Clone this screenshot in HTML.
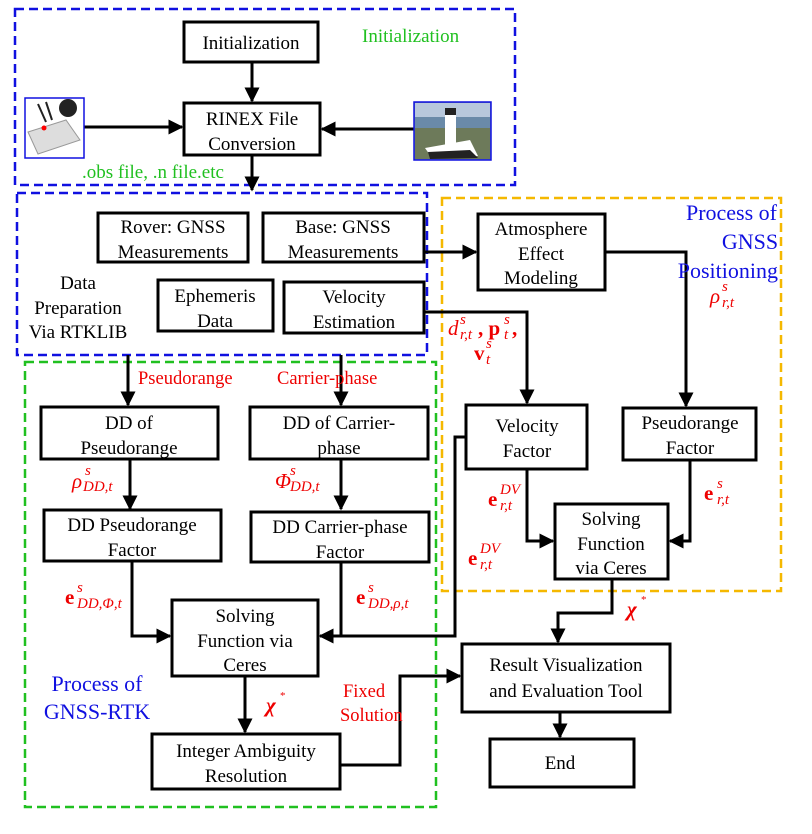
<!DOCTYPE html>
<html><head><meta charset="utf-8"><style>
body{margin:0;background:#fff;}
svg text{font-family:"Liberation Serif",serif;}
.b{fill:#fff;stroke:#000;stroke-width:3;}
.t{font-size:19px;fill:#000;text-anchor:middle;}
.l{stroke:#000;stroke-width:3;fill:none;}
.r{fill:#e00;font-style:italic;font-size:21px;}
.rs{fill:#e00;font-style:italic;font-size:15px;}
.bl{fill:#e00;font-weight:bold;font-size:21px;}
</style></head><body>
<svg width="812" height="829" viewBox="0 0 812 829" xmlns="http://www.w3.org/2000/svg">
<defs><marker id="a" markerWidth="5" markerHeight="5" refX="4.5" refY="2.5" orient="auto" markerUnits="strokeWidth"><path d="M0,0L5,2.5L0,5z" fill="#000"/></marker></defs>
<rect x="15" y="9" width="500" height="176" fill="none" stroke="#1010e0" stroke-width="2.5" stroke-dasharray="9,5"/>
<rect x="17" y="193" width="410" height="162" fill="none" stroke="#1010e0" stroke-width="2.5" stroke-dasharray="9,5"/>
<rect x="442" y="198" width="339" height="393" fill="none" stroke="#f5b800" stroke-width="2.5" stroke-dasharray="9,5"/>
<rect x="25" y="362" width="411" height="445" fill="none" stroke="#20c020" stroke-width="2.5" stroke-dasharray="9,5"/>
<g class="l" marker-end="url(#a)">
<path d="M252,62V101"/>
<path d="M84,127H182"/>
<path d="M414,129H322"/>
<path d="M252,155V190"/>
<path d="M424,252H476"/>
<path d="M605,252H686V406"/>
<path d="M424,312H527V403"/>
<path d="M128,355V405"/>
<path d="M341,355V405"/>
<path d="M130,459V509"/>
<path d="M341,459V509"/>
<path d="M132,561V636H170"/>
<path d="M341,562V636H320"/>
<path d="M527,469V541H553"/>
<path d="M690,460V541H670"/>
<path d="M245,676V732"/>
<path d="M612,579V613H558V642"/>
<path d="M340,765H400V676H460"/>
<path d="M560,712V737"/>
</g>
<path class="l" d="M466,437H455V636H341"/>
<rect x="25" y="98" width="59" height="60" fill="#fff" stroke="#1010e0" stroke-width="1.5"/>
<polygon points="28,132 66,120 80,140 38,154" fill="#ddd" stroke="#999"/>
<circle cx="68" cy="108" r="9" fill="#222"/><path d="M38,104l8,18M46,102l6,18" stroke="#222" stroke-width="2"/>
<circle cx="44" cy="128" r="2.5" fill="red"/>
<rect x="414" y="102" width="77" height="58" fill="#6a8aa8" stroke="#1010e0" stroke-width="1.5"/>
<rect x="415" y="103" width="75" height="14" fill="#b8c8dc"/>
<rect x="415" y="128" width="75" height="31" fill="#6d7a5a"/>
<polygon points="425,148 470,140 478,156 432,158" fill="#fff"/>
<polygon points="428,152 470,150 478,158 430,159" fill="#222"/>
<rect x="445" y="108" width="11" height="40" fill="#fff"/><rect x="445" y="108" width="11" height="7" fill="#222"/>
<rect class="b" x="184" y="22" width="134" height="40"/><text class="t" x="251" y="49">Initialization</text>
<rect class="b" x="184" y="103" width="136" height="52"/><text class="t" x="252" y="125">RINEX File</text><text class="t" x="252" y="150">Conversion</text>
<rect class="b" x="98" y="213" width="150" height="49"/><text class="t" x="173" y="233">Rover: GNSS</text><text class="t" x="173" y="258">Measurements</text>
<rect class="b" x="263" y="213" width="161" height="49"/><text class="t" x="343" y="233">Base: GNSS</text><text class="t" x="343" y="258">Measurements</text>
<rect class="b" x="158" y="280" width="115" height="51"/><text class="t" x="215" y="302">Ephemeris</text><text class="t" x="215" y="327">Data</text>
<rect class="b" x="284" y="282" width="140" height="51"/><text class="t" x="354" y="303">Velocity</text><text class="t" x="354" y="328">Estimation</text>
<rect class="b" x="478" y="214" width="127" height="76"/><text class="t" x="541" y="235">Atmosphere</text><text class="t" x="541" y="260">Effect</text><text class="t" x="541" y="284">Modeling</text>
<rect class="b" x="466" y="405" width="121" height="64"/><text class="t" x="527" y="432">Velocity</text><text class="t" x="527" y="457">Factor</text>
<rect class="b" x="623" y="408" width="133" height="52"/><text class="t" x="690" y="429">Pseudorange</text><text class="t" x="690" y="454">Factor</text>
<rect class="b" x="555" y="504" width="113" height="75"/><text class="t" x="611" y="525">Solving</text><text class="t" x="611" y="550">Function</text><text class="t" x="611" y="574">via Ceres</text>
<rect class="b" x="41" y="407" width="177" height="52"/><text class="t" x="129" y="429">DD of</text><text class="t" x="129" y="454">Pseudorange</text>
<rect class="b" x="250" y="407" width="178" height="52"/><text class="t" x="339" y="429">DD of Carrier-</text><text class="t" x="339" y="454">phase</text>
<rect class="b" x="44" y="510" width="177" height="51"/><text class="t" x="132" y="531">DD Pseudorange</text><text class="t" x="132" y="556">Factor</text>
<rect class="b" x="251" y="512" width="178" height="50"/><text class="t" x="340" y="533">DD Carrier-phase</text><text class="t" x="340" y="558">Factor</text>
<rect class="b" x="172" y="600" width="146" height="76"/><text class="t" x="245" y="622">Solving</text><text class="t" x="245" y="647">Function via</text><text class="t" x="245" y="671">Ceres</text>
<rect class="b" x="152" y="734" width="188" height="55"/><text class="t" x="246" y="757">Integer Ambiguity</text><text class="t" x="246" y="782">Resolution</text>
<rect class="b" x="462" y="644" width="208" height="68"/><text class="t" x="566" y="671">Result Visualization</text><text class="t" x="566" y="697">and Evaluation Tool</text>
<rect class="b" x="490" y="739" width="144" height="48"/><text class="t" x="560" y="769">End</text>
<text x="362" y="42" fill="#20c020" font-size="19">Initialization</text>
<text x="82" y="178" fill="#20c020" font-size="19">.obs file, .n file.etc</text>
<text class="t" x="78" y="289">Data</text><text class="t" x="78" y="314">Preparation</text><text class="t" x="78" y="338">Via RTKLIB</text>
<text x="777" y="220" fill="#1010e0" font-size="22" text-anchor="end">Process of</text>
<text x="750" y="249" fill="#1010e0" font-size="22" text-anchor="middle">GNSS</text>
<text x="778" y="278" fill="#1010e0" font-size="22" text-anchor="end">Positioning</text>
<text x="97" y="691" fill="#1010e0" font-size="22" text-anchor="middle">Process of</text>
<text x="97" y="719" fill="#1010e0" font-size="22" text-anchor="middle">GNSS-RTK</text>
<text x="138" y="384" fill="#e00" font-size="18.5">Pseudorange</text>
<text x="277" y="384" fill="#e00" font-size="18.5">Carrier-phase</text>
<text x="343" y="697" fill="#e00" font-size="18.5">Fixed</text>
<text x="340" y="721" fill="#e00" font-size="18.5">Solution</text>
<text class="r" x="710" y="303">ρ</text><text class="rs" x="722" y="291">s</text><text class="rs" x="722" y="307">r,t</text>
<text class="r" x="448" y="335">d</text><text class="rs" x="460" y="324">s</text><text class="rs" x="460" y="339">r,t</text><text class="bl" x="478" y="335">, p</text><text class="rs" x="504" y="324">s</text><text class="rs" x="504" y="339">t</text><text class="bl" x="512" y="335">,</text>
<text class="bl" x="474" y="360">v</text><text class="rs" x="486" y="348">s</text><text class="rs" x="486" y="364">t</text>
<text class="bl" x="488" y="506">e</text><text class="rs" x="500" y="494">DV</text><text class="rs" x="500" y="510">r,t</text>
<text class="bl" x="468" y="565">e</text><text class="rs" x="480" y="553">DV</text><text class="rs" x="480" y="569">r,t</text>
<text class="bl" x="704" y="500">e</text><text class="rs" x="717" y="488">s</text><text class="rs" x="717" y="504">r,t</text>
<text class="r" x="72" y="488">ρ</text><text class="rs" x="85" y="475">s</text><text class="rs" x="83" y="491">DD,t</text>
<text class="r" x="275" y="488">Φ</text><text class="rs" x="290" y="475">s</text><text class="rs" x="290" y="491">DD,t</text>
<text class="bl" x="65" y="604">e</text><text class="rs" x="77" y="592">s</text><text class="rs" x="77" y="608">DD,Φ,t</text>
<text class="bl" x="356" y="604">e</text><text class="rs" x="368" y="592">s</text><text class="rs" x="368" y="608">DD,ρ,t</text>
<text class="bl" x="266" y="712" font-style="italic">χ</text><text x="280" y="699" fill="#e00" font-size="11">*</text>
<text class="bl" x="627" y="616" font-style="italic">χ</text><text x="641" y="603" fill="#e00" font-size="11">*</text>
</svg>
</body></html>
